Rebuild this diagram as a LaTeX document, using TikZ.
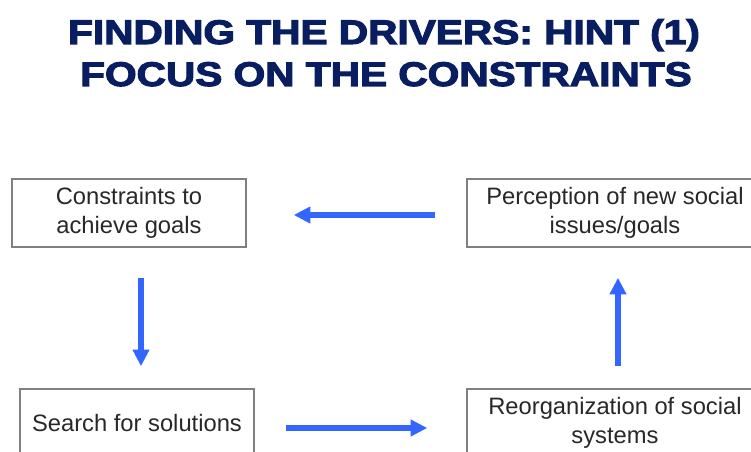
\documentclass[tikz,border=0pt]{standalone}
\usepackage{fontspec}
\setmainfont{Liberation Sans}
\newfontfamily\titlefont{Liberation Sans}[BoldFeatures={FakeBold=3}]
\usetikzlibrary{arrows.meta,calc}
\definecolor{navy}{RGB}{8,30,96}
\definecolor{arrblue}{RGB}{51,102,255}
\definecolor{boxgray}{RGB}{128,128,128}
\definecolor{txt}{RGB}{40,40,40}
\begin{document}
\begin{tikzpicture}[x=0.75pt,y=-0.75pt,
  titletext/.style={anchor=base,inner sep=0pt,text=navy,font=\titlefont\bfseries\fontsize{25.6}{30}\selectfont},
  boxnode/.style={draw=boxgray,line width=1.1pt,fill=white,text=txt,align=center,
    inner sep=0pt,font=\fontsize{17.8}{21.75}\selectfont},
  arr/.style={draw=arrblue,line width=4.6pt,-{Triangle[length=12.5pt,width=12pt]}}]
\useasboundingbox (0,0) rectangle (751,452);
\clip (0,0) rectangle (751,452);
\fill[white] (0,0) rectangle (751,452);
\node[titletext] (t1) at (384,44) {\scalebox{1.19}[1]{FINDING THE DRIVERS: HINT (1)}};
\node[titletext] (t2) at (386,86) {\scalebox{1.19}[1]{FOCUS ON THE CONSTRAINTS}};
\node[boxnode,minimum width=234*0.75pt,minimum height=68*0.75pt] (TL) at (129,213) {Constraints to\\achieve goals};
\node[boxnode,minimum width=296*0.75pt,minimum height=68*0.75pt] (TR) at (615,213) {Perception of new social\\issues/goals};
\node[boxnode,minimum width=234*0.75pt,minimum height=68*0.75pt] (BL) at (137,423) {Search for solutions};
\node[boxnode,minimum width=296*0.75pt,minimum height=68*0.75pt] (BR) at (615,423) {Reorganization of social\\systems};
\draw[arr,shorten <=31*0.75pt,shorten >=47*0.75pt] ([shift={(0,2)}]TR.west) -- ([shift={(0,2)}]TL.east);
\draw[arr,shorten <=30*0.75pt,shorten >=22*0.75pt] ([shift={(12,0)}]TL.south) -- ([shift={(4,0)}]BL.north);
\draw[arr,shorten <=31*0.75pt,shorten >=39*0.75pt] ([shift={(0,5)}]BL.east) -- ([shift={(0,5)}]BR.west);
\draw[arr,shorten <=22*0.75pt,shorten >=30*0.75pt] ([shift={(3,0)}]BR.north) -- ([shift={(3,0)}]TR.south);
\end{tikzpicture}
\end{document}
